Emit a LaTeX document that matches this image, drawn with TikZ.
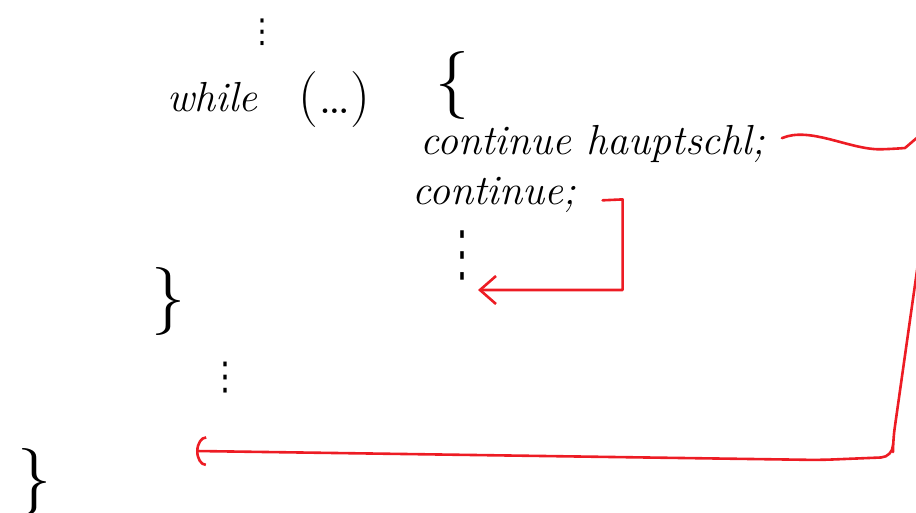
\documentclass[tikz,border=0pt]{standalone}
\usepackage{fontspec}
\usepackage{tikz}
\usetikzlibrary{arrows.meta}

\newfontfamily\dotsfont{DejaVu Sans}
\definecolor{pen}{RGB}{237,28,36}

\begin{document}
\begin{tikzpicture}[x=0.5pt, y=-0.5pt]
    \tikzset{code/.style={font=\fontsize{21}{25}\selectfont\itshape,
            inner sep=1pt, anchor=base west},
        skip/.style={font=\dotsfont\fontsize{#1}{#1}\selectfont, inner sep=0pt},
        brace/.style={font=\fontsize{34}{38}\selectfont, inner sep=0pt},
        jump/.style={draw=pen, line width=1.3pt, line cap=round,
            line join=round, shorten <=12pt}
    }
    \useasboundingbox (0,0) rectangle (916,513);
    \clip (0,0) rectangle (916,513);
    % outer loop
    \node [skip=15, yscale=1.1] (dotsA) at (262,32) {⋮};
    \node [code] (while) at (165,112) {while};
    \node [code, font=\fontsize{28}{32}\selectfont] (cond) at (296,114) {(\dots)};
    \node [brace] (open) at (452,86) {\{};
    % loop body
    \node [code] (cth) at (418,155) {continue hauptschl;};
    \node [code] (cont) at (410,205) {continue;};
    \node [skip=17, yscale=1.8] (dotsB) at (462,255) {⋮};
    \node [brace] (closeA) at (168,302) {\}};
    \node [skip=16, yscale=1.2] (dotsC) at (225,378) {⋮};
    \node [brace] (closeB) at (35,482) {\}};
    % where the jumps land
    \coordinate (inB) at (478,290);
    \coordinate (outC) at (196,451);
    % continue
    \draw [jump, -{Straight Barb[length=8pt, width=14pt]}]
        ([yshift=-3pt]cont.east) -- ++(44,-2) |- (inB);
    % continue hauptschl
    \draw [jump, shorten <=8pt, rounded corners=6,
        -{Arc Barb[length=5pt, width=15pt]}]
        (cth.east) .. controls (810,126) and (850,150) .. (893,149)
        .. controls (905,148) .. (926,130) -- (927,200)
        -- (893,440) -- (893,457) -- (820,460) -- (outC);
\end{tikzpicture}
\end{document}
